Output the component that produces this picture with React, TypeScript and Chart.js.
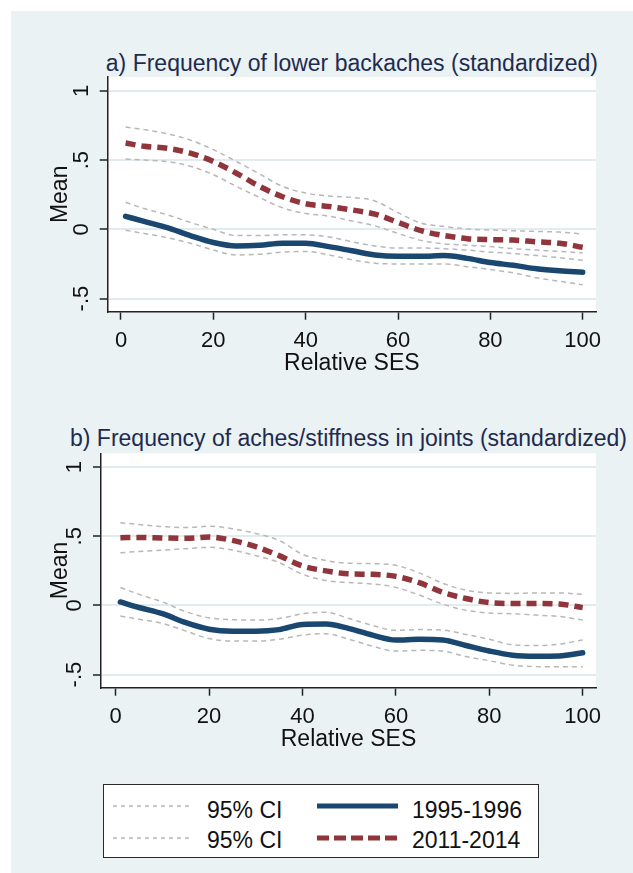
import React, { useEffect, useRef } from "react";
import { Chart, registerables } from "chart.js";

Chart.register(...registerables);

// ---------- data ----------
const xValues = [1, 5, 10, 15, 20, 25, 30, 35, 40, 45, 50, 55, 60, 65, 70, 75, 80, 85, 90, 95, 100];

const yTicks = [-0.5, 0, 0.5, 1];
const yTickLabels = ["-.5", "0", ".5", "1"];
const xTicks = [0, 20, 40, 60, 80, 100];
const xTickLabels = ["0", "20", "40", "60", "80", "100"];

const titleA = "a) Frequency of lower backaches (standardized)";
const titleB = "b) Frequency of aches/stiffness in joints (standardized)";
const yAxisTitle = "Mean";
const xAxisTitle = "Relative SES";
const seriesNames = ["1995-1996", "2011-2014"];
const ciName = "95% CI";

// Panel a
const aNavy = [0.094, 0.057, 0.012, -0.045, -0.095, -0.12, -0.115, -0.1, -0.1, -0.125, -0.155, -0.185, -0.195, -0.195, -0.19, -0.21, -0.24, -0.26, -0.285, -0.3, -0.31];
const aNavyHi = [0.195, 0.15, 0.105, 0.05, 0.0, -0.045, -0.045, -0.04, -0.04, -0.055, -0.09, -0.12, -0.135, -0.135, -0.14, -0.15, -0.165, -0.175, -0.19, -0.205, -0.224];
const aNavyLo = [-0.007, -0.03, -0.06, -0.1, -0.15, -0.185, -0.18, -0.165, -0.16, -0.185, -0.22, -0.245, -0.25, -0.25, -0.25, -0.27, -0.29, -0.315, -0.35, -0.375, -0.4];
const aMaroon = [0.623, 0.6, 0.585, 0.55, 0.49, 0.405, 0.31, 0.235, 0.185, 0.165, 0.14, 0.11, 0.05, -0.01, -0.045, -0.068, -0.075, -0.078, -0.09, -0.1, -0.13];
const aMaroonHi = [0.739, 0.72, 0.69, 0.645, 0.575, 0.49, 0.4, 0.31, 0.262, 0.24, 0.23, 0.205, 0.12, 0.045, 0.02, 0.002, -0.005, -0.01, -0.015, -0.02, -0.034];
const aMaroonLo = [0.508, 0.5, 0.49, 0.455, 0.395, 0.31, 0.23, 0.155, 0.115, 0.095, 0.06, 0.025, -0.03, -0.08, -0.105, -0.115, -0.125, -0.14, -0.15, -0.16, -0.17];

// Panel b
const bNavy = [0.025, -0.015, -0.06, -0.125, -0.172, -0.186, -0.186, -0.175, -0.138, -0.135, -0.168, -0.215, -0.25, -0.245, -0.25, -0.29, -0.33, -0.36, -0.367, -0.365, -0.343];
const bNavyHi = [0.13, 0.08, 0.025, -0.045, -0.09, -0.103, -0.106, -0.095, -0.06, -0.05, -0.095, -0.145, -0.18, -0.175, -0.178, -0.21, -0.245, -0.285, -0.29, -0.28, -0.25];
const bNavyLo = [-0.077, -0.1, -0.13, -0.185, -0.24, -0.258, -0.258, -0.245, -0.215, -0.205, -0.245, -0.295, -0.33, -0.325, -0.33, -0.37, -0.4, -0.432, -0.442, -0.444, -0.444];
const bMaroon = [0.49, 0.492, 0.488, 0.485, 0.495, 0.47, 0.425, 0.36, 0.285, 0.25, 0.228, 0.225, 0.21, 0.165, 0.095, 0.05, 0.02, 0.014, 0.014, 0.01, -0.016];
const bMaroonHi = [0.598, 0.585, 0.57, 0.563, 0.572, 0.555, 0.52, 0.47, 0.37, 0.325, 0.305, 0.302, 0.29, 0.235, 0.16, 0.11, 0.09, 0.087, 0.09, 0.09, 0.08];
const bMaroonLo = [0.381, 0.39, 0.4, 0.41, 0.42, 0.4, 0.36, 0.31, 0.225, 0.18, 0.165, 0.155, 0.13, 0.075, 0.01, -0.035, -0.055, -0.06, -0.07, -0.08, -0.106];

// ---------- styles ----------
const FONT = "'Liberation Sans', Arial, Helvetica, sans-serif";
const NAVY = "#1A476F";
const MAROON = "#90353B";
const CI_GRAY = "#B8B8B8";
const BG = "#EAF2F3";
const GRID = "#E2EBEE";
const AXIS = "#222222";
const TITLE_COLOR = "#1E2B4F";

type PanelLayout = {
  top: number;
  padTop: number;
  padLeft: number;
  padBottom: number;
  padRight: number;
  yWidth: number;
  xHeight: number;
  xMin: number;
  xMax: number;
};

const layoutA: PanelLayout = { top: 30, padTop: 47, padLeft: 36.2, padBottom: 22.2, padRight: 37, yWidth: 60.5, xHeight: 66.1, xMin: -2.88, xMax: 102.88 };
const layoutB: PanelLayout = { top: 400, padTop: 53.3, padLeft: 36.2, padBottom: 16.2, padRight: 37, yWidth: 53.8, xHeight: 66.1, xMin: -3.15, xMax: 102.85 };

const CANVAS_W = 622;
const CANVAS_H = 370;

const plotBg = {
  id: "plotBg",
  beforeDraw(chart: any) {
    const { ctx, chartArea: a } = chart;
    ctx.save();
    ctx.fillStyle = "#ffffff";
    ctx.fillRect(a.left, a.top, a.right - a.left, a.bottom - a.top);
    ctx.restore();
  },
};

const pts = (arr: number[]) => xValues.map((x, i) => ({ x, y: arr[i] }));

function ciSet(arr: number[]) {
  return {
    data: pts(arr),
    borderColor: CI_GRAY,
    borderWidth: 1.5,
    borderDash: [5, 4],
    pointRadius: 0,
    cubicInterpolationMode: "monotone",
    fill: false,
    order: 2,
  };
}

function makeConfig(lay: PanelLayout, navy: number[], navyHi: number[], navyLo: number[], maroon: number[], maroonHi: number[], maroonLo: number[]): any {
  return {
    type: "line",
    data: {
      datasets: [
        {
          label: seriesNames[0],
          data: pts(navy),
          borderColor: NAVY,
          borderWidth: 5.5,
          pointRadius: 0,
          cubicInterpolationMode: "monotone",
          borderCapStyle: "round",
          order: 1,
        },
        {
          label: seriesNames[1],
          data: pts(maroon),
          borderColor: MAROON,
          borderWidth: 5.5,
          borderDash: [10, 6],
          pointRadius: 0,
          cubicInterpolationMode: "monotone",
          order: 0,
        },
        { label: ciName, ...ciSet(navyHi) },
        { label: ciName, ...ciSet(navyLo) },
        { label: ciName, ...ciSet(maroonHi) },
        { label: ciName, ...ciSet(maroonLo) },
      ],
    },
    options: {
      animation: false,
      responsive: false,
      events: [],
      layout: { padding: { left: lay.padLeft, right: lay.padRight, top: lay.padTop, bottom: lay.padBottom } },
      plugins: { legend: { display: false }, tooltip: { enabled: false }, title: { display: false } },
      scales: {
        x: {
          type: "linear",
          min: lay.xMin,
          max: lay.xMax,
          afterBuildTicks: (s: any) => {
            s.ticks = xTicks.map((v) => ({ value: v }));
          },
          afterFit: (s: any) => {
            s.height = lay.xHeight;
          },
          ticks: {
            callback: (v: number) => xTickLabels[xTicks.indexOf(v)] ?? "",
            font: { family: FONT, size: 22 },
            color: "#111",
            padding: 8,
            minRotation: 0,
            maxRotation: 0,
            autoSkip: false,
          },
          grid: { drawOnChartArea: false, drawTicks: true, tickLength: 8, tickColor: AXIS, tickWidth: 1.5 },
          border: { display: true, color: AXIS, width: 1.5 },
          title: { display: true, text: xAxisTitle, font: { family: FONT, size: 23 }, color: "#111", padding: 0 },
        },
        y: {
          type: "linear",
          min: -0.595,
          max: 1.1,
          afterBuildTicks: (s: any) => {
            s.ticks = yTicks.map((v) => ({ value: v }));
          },
          afterFit: (s: any) => {
            s.width = lay.yWidth;
          },
          ticks: {
            callback: (v: number) => yTickLabels[yTicks.indexOf(v)] ?? "",
            font: { family: FONT, size: 22 },
            color: "#111",
            minRotation: 90,
            maxRotation: 90,
            crossAlign: "center",
            padding: 5.4,
            autoSkip: false,
          },
          grid: { color: GRID, lineWidth: 2, drawTicks: true, tickLength: 8, tickColor: AXIS, tickWidth: 1.5 },
          border: { display: true, color: AXIS, width: 1.5 },
          title: { display: true, text: yAxisTitle, font: { family: FONT, size: 23 }, color: "#111", padding: 0 },
        },
      },
    },
    plugins: [plotBg],
  };
}

function Panel(props: { lay: PanelLayout; series: number[][] }) {
  const ref = useRef<HTMLCanvasElement>(null);
  useEffect(() => {
    const [n, nh, nl, m, mh, ml] = props.series;
    const chart = new Chart(ref.current as HTMLCanvasElement, makeConfig(props.lay, n, nh, nl, m, mh, ml));
    return () => chart.destroy();
  }, []);
  return (
    <canvas
      ref={ref}
      width={CANVAS_W}
      height={CANVAS_H}
      style={{ position: "absolute", left: 11, top: props.lay.top, width: CANVAS_W, height: CANVAS_H }}
    />
  );
}

function PanelTitle(props: { text: string; cx: number; top: number }) {
  return (
    <div
      style={{
        position: "absolute",
        left: props.cx - 400,
        width: 800,
        top: props.top,
        textAlign: "center",
        fontFamily: FONT,
        fontSize: 23,
        lineHeight: "28px",
        color: TITLE_COLOR,
        whiteSpace: "nowrap",
      }}
    >
      {props.text}
    </div>
  );
}

function LegendSample(props: { left: number; top: number; width: number; color: string; lw: number; dash?: string }) {
  return (
    <svg style={{ position: "absolute", left: props.left, top: props.top - 5 }} width={props.width} height={10}>
      <line x1={0} y1={5} x2={props.width} y2={5} stroke={props.color} strokeWidth={props.lw} strokeDasharray={props.dash} />
    </svg>
  );
}

function LegendText(props: { left: number; top: number; text: string }) {
  return (
    <div
      style={{
        position: "absolute",
        left: props.left,
        top: props.top,
        fontFamily: FONT,
        fontSize: 23,
        lineHeight: "28px",
        color: "#111",
        whiteSpace: "nowrap",
      }}
    >
      {props.text}
    </div>
  );
}

export default function App() {
  useEffect(() => {
    document.body.style.margin = "0";
  }, []);
  return (
    <div
      style={{
        position: "fixed",
        left: 0,
        top: 0,
        width: 633,
        height: 873,
        overflow: "hidden",
        background: "#ffffff",
      }}
    >
      <div style={{ position: "absolute", left: 11, top: 11, width: 622, height: 862, background: BG }} />
      <PanelTitle text={titleA} cx={351.9} top={49} />
      <PanelTitle text={titleB} cx={348.5} top={424} />
      <Panel lay={layoutA} series={[aNavy, aNavyHi, aNavyLo, aMaroon, aMaroonHi, aMaroonLo]} />
      <Panel lay={layoutB} series={[bNavy, bNavyHi, bNavyLo, bMaroon, bMaroonHi, bMaroonLo]} />
      <div
        style={{
          position: "absolute",
          left: 103,
          top: 784,
          width: 436,
          height: 74,
          boxSizing: "border-box",
          border: "1.5px solid #2a2a2a",
          background: "#ffffff",
        }}
      />
      <LegendSample left={113} top={806} width={79} color={CI_GRAY} lw={1.5} dash="4 4" />
      <LegendSample left={113} top={838} width={79} color={CI_GRAY} lw={1.5} dash="4 4" />
      <LegendSample left={317} top={806} width={81} color={NAVY} lw={5} />
      <LegendSample left={317} top={838} width={81} color={MAROON} lw={5} dash="12 5" />
      <LegendText left={207} top={796} text={ciName} />
      <LegendText left={207} top={826} text={ciName} />
      <LegendText left={412} top={796} text={seriesNames[0]} />
      <LegendText left={412} top={826} text={seriesNames[1]} />
    </div>
  );
}
